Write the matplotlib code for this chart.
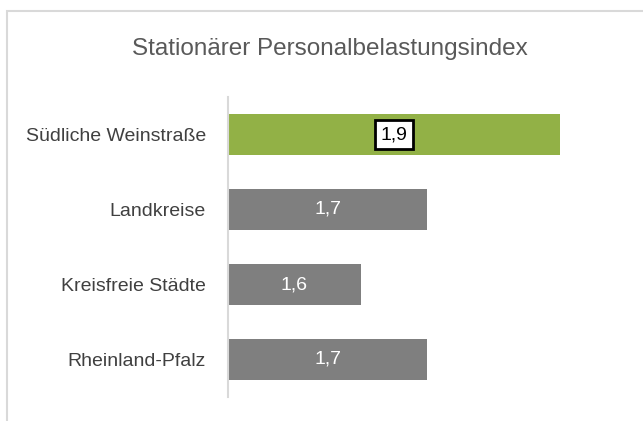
import matplotlib.pyplot as plt
from matplotlib.patches import Rectangle

categories = ["Südliche Weinstraße", "Landkreise", "Kreisfreie Städte", "Rheinland-Pfalz"]
values = [1.9, 1.7, 1.6, 1.7]
value_labels = ["1,9", "1,7", "1,6", "1,7"]
colors = ["#92B146", "#7F7F7F", "#7F7F7F", "#7F7F7F"]

plt.rcParams['font.family'] = ['Liberation Sans Narrow', 'Liberation Sans', 'DejaVu Sans']

fig = plt.figure(figsize=(6.43, 4.21), dpi=100)
# outer chart border (only top/left visible)
fig.patches.append(Rectangle((7/643, -0.1), 1.2, (421 - 11)/421 + 0.1, transform=fig.transFigure,
                             fill=False, edgecolor="#D9D9D9", linewidth=1.5))

ax = fig.add_axes([228/643, (421 - 397)/421, (626 - 228)/643, 300/421])

xmin = 1.4
ypos = list(range(len(categories)))
ax.barh(ypos, [v - xmin for v in values], left=xmin, height=0.55, color=colors)
ax.set_xlim(xmin, 2.0)
ax.set_ylim(len(categories) - 0.5, -0.5)

for i, (v, lab) in enumerate(zip(values, value_labels)):
    xc = (xmin + v) / 2
    if i == 0:
        ax.text(xc, i, lab, ha="center", va="center", fontsize=14, color="black",
                bbox=dict(boxstyle="square,pad=0.3", facecolor="white", edgecolor="black", linewidth=2))
    else:
        ax.text(xc, i, lab, ha="center", va="center", fontsize=14, color="white")

ax.set_yticks(ypos)
ax.set_yticklabels(categories, fontsize=14, color="#404040")
ax.tick_params(axis="y", length=0, pad=16)
ax.set_xticks([])
for s in ["top", "right", "bottom"]:
    ax.spines[s].set_visible(False)
ax.spines["left"].set_color("#D9D9D9")
ax.spines["left"].set_linewidth(1.5)

fig.text(330/643, 1 - 49/421, "Stationärer Personalbelastungsindex", ha="center", va="center",
         fontsize=17.5, color="#595959")

plt.savefig("out.png", dpi=100)
